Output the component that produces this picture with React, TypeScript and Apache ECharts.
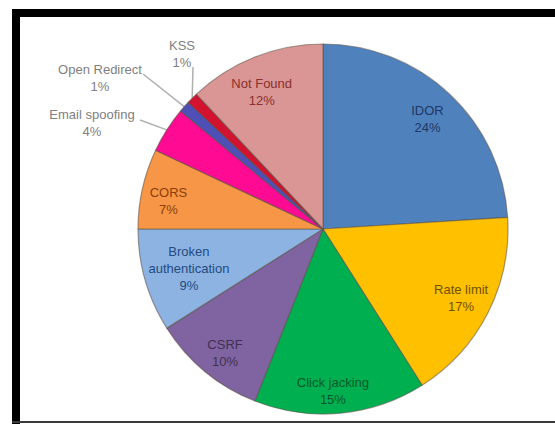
import React, { useEffect, useRef } from "react";
import * as echarts from "echarts";

// ---- data ----
const categories = [
  "IDOR",
  "Rate limit",
  "Click jacking",
  "CSRF",
  "Broken authentication",
  "CORS",
  "Email spoofing",
  "Open Redirect",
  "KSS",
  "Not Found",
];
const values = [24, 17, 15, 10, 9, 7, 4, 1, 1, 12];
const labelTexts = [
  "IDOR",
  "Rate limit",
  "Click jacking",
  "CSRF",
  "Broken\nauthentication",
  "CORS",
  "Email spoofing",
  "Open Redirect",
  "KSS",
  "Not Found",
];
const outsideNames = ["Email spoofing", "Open Redirect", "KSS"];

// ---- styles ----
const sliceColors = [
  "#4F81BD",
  "#FFC000",
  "#00B050",
  "#8064A2",
  "#8DB3E2",
  "#F79646",
  "#FF0A93",
  "#4F4FB8",
  "#D2122E",
  "#D99694",
];
const labelColors = [
  "#1F3864",
  "#6F5200",
  "#00582A",
  "#3F3151",
  "#244A80",
  "#8A3E08",
  "#808080",
  "#808080",
  "#808080",
  "#8A2F2C",
];
// small nudges of the in-slice labels (as placed by hand in the original)
const labelNudge: [number, number][] = [
  [-4, 5],
  [-3, -3],
  [-5, 4],
  [3, 2],
  [18, -5],
  [0, 7],
  [0, 0],
  [0, 0],
  [0, 0],
  [-3, 10],
];
// label anchors for the callout labels (text block centre, leader line end)
const outsidePos: Record<string, { x: number; y: number; lx: number; ly: number }> = {
  "Email spoofing": { x: 92, y: 123, lx: 140, ly: 120 },
  "Open Redirect": { x: 100, y: 78, lx: 143, ly: 74 },
  KSS: { x: 182, y: 54, lx: 193, ly: 67 },
};

const CENTER: [number, number] = [323, 229];
const R = 185;
const FONT = "Liberation Sans";

export default function App() {
  const ref = useRef<HTMLDivElement>(null);
  useEffect(() => {
    if (!ref.current) return;
    const chart = echarts.init(ref.current, undefined, { renderer: "svg" });

    const mainData = categories.map((name, i) => {
      const outside = outsideNames.includes(name);
      return {
        name,
        value: values[i],
        itemStyle: { color: sliceColors[i] },
        label: {
          show: outside,
          position: "outside" as const,
          color: labelColors[i],
        },
        labelLine: { show: outside },
      };
    });
    const labelData = categories.map((name, i) => ({
      name,
      value: values[i],
      label: {
        show: !outsideNames.includes(name),
        color: labelColors[i],
      },
    }));

    chart.setOption({
      animation: false,
      backgroundColor: "#ffffff",
      graphic: [
        { type: "rect", shape: { x: 12, y: 9, width: 8, height: 415 }, style: { fill: "#000" } },
        { type: "rect", shape: { x: 12, y: 9, width: 543, height: 8 }, style: { fill: "#000" } },
        { type: "rect", shape: { x: 12, y: 421, width: 543, height: 2 }, style: { fill: "#3a3a3a" } },
      ],
      series: [
        {
          type: "pie",
          center: CENTER,
          radius: [0, R],
          startAngle: 90,
          clockwise: true,
          silent: true,
          itemStyle: { borderColor: "rgba(90,80,70,0.55)", borderWidth: 1.2 },
          label: {
            fontFamily: FONT,
            fontSize: 13,
            lineHeight: 17,
            align: "center",
            formatter: (p: any) => `${labelTexts[p.dataIndex]}\n${values[p.dataIndex]}%`,
          },
          labelLine: {
            lineStyle: { color: "#b0b0b0", width: 1.5 },
            smooth: false,
          },
          labelLayout: (p: any) => {
            const name = categories[p.dataIndex];
            const pos = outsidePos[name];
            if (!pos) return {};
            const pts = p.labelLinePoints;
            const res: any = {
              x: pos.x,
              y: pos.y,
              align: "center",
              verticalAlign: "middle",
            };
            if (pts && pts.length) {
              res.labelLinePoints = [pts[0], [pos.lx, pos.ly], [pos.lx, pos.ly]];
            }
            return res;
          },
          data: mainData,
        },
        {
          type: "pie",
          center: CENTER,
          radius: [R * 0.68, R],
          startAngle: 90,
          clockwise: true,
          silent: true,
          itemStyle: { color: "rgba(0,0,0,0)", borderWidth: 0 },
          label: {
            position: "inside",
            fontFamily: FONT,
            fontSize: 13,
            lineHeight: 17,
            align: "center",
            formatter: (p: any) => `${labelTexts[p.dataIndex]}\n${values[p.dataIndex]}%`,
          },
          labelLayout: (p: any) => {
            const n = labelNudge[p.dataIndex] || [0, 0];
            return { dx: n[0], dy: n[1] };
          },
          labelLine: { show: false },
          data: labelData,
        },
      ],
    });
    return () => chart.dispose();
  }, []);

  return (
    <div
      ref={ref}
      style={{ position: "fixed", left: 0, top: 0, width: 555, height: 424, background: "#fff" }}
    />
  );
}
